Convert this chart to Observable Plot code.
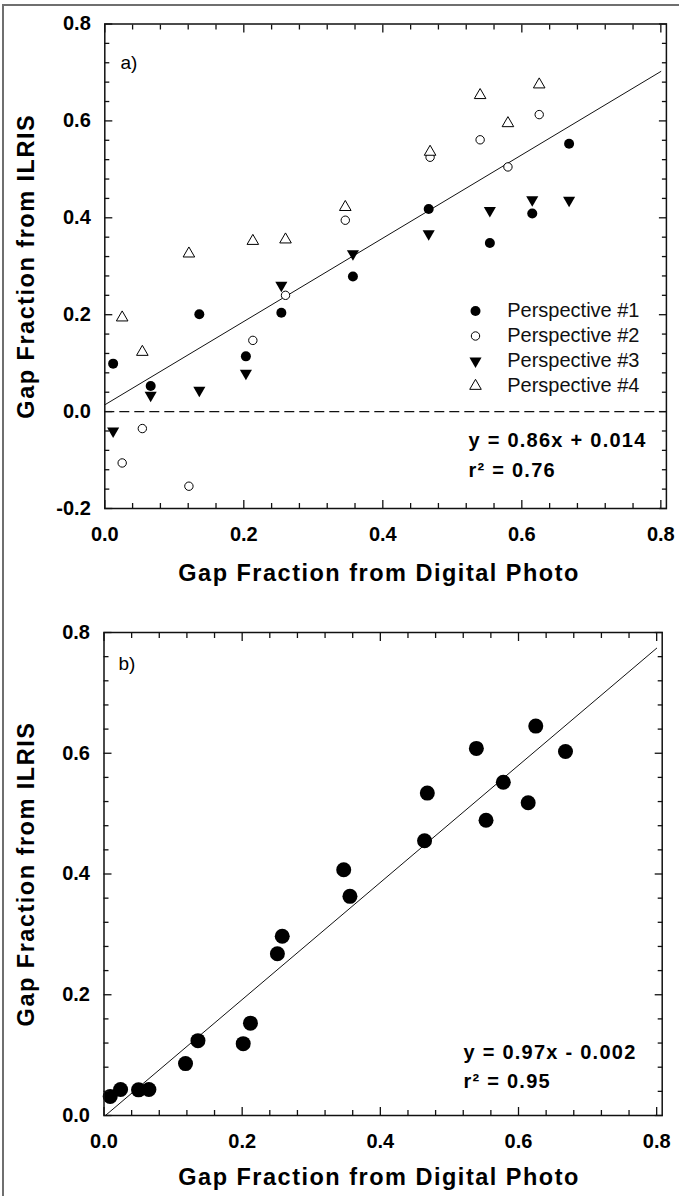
<!DOCTYPE html>
<html>
<head>
<meta charset="utf-8">
<script src="https://cdn.jsdelivr.net/npm/d3@7"></script>
<script src="https://cdn.jsdelivr.net/npm/@observablehq/plot@0.6"></script>
<style>
  body { margin: 0; background: #fff; }
  #page { position: relative; width: 679px; height: 1196px; overflow: hidden; background: #fff; }
  #page svg { display: block; }
  #border { position: absolute; left: 2px; top: 4px; right: -10px; bottom: -10px;
            border-top: 2px solid #6f6f6f; border-left: 2px solid #6f6f6f; pointer-events: none; }
</style>
</head>
<body>
<div id="page"><div id="border"></div></div>
<script>
// Gap fraction: digital hemispherical photo (x) vs ILRIS lidar (y)

// Panel a) — sites seen from perspectives #1 and #3
const photoA = [0.012, 0.066, 0.136, 0.203, 0.254, 0.357, 0.466, 0.554, 0.615, 0.668];
const persp1 = [0.099, 0.053, 0.201, 0.114, 0.204, 0.279, 0.418, 0.348, 0.409, 0.553];
const persp3 = [-0.040, 0.034, 0.044, 0.079, 0.261, 0.326, 0.367, 0.415, 0.437, 0.436];

// Panel a) — sites seen from perspectives #2 and #4
const photoB = [0.025, 0.054, 0.121, 0.213, 0.260, 0.346, 0.468, 0.540, 0.580, 0.625];
const persp2 = [-0.106, -0.035, -0.154, 0.147, 0.240, 0.395, 0.525, 0.561, 0.505, 0.613];
const persp4 = [0.194, 0.123, 0.326, 0.352, 0.355, 0.422, 0.536, 0.653, 0.595, 0.675];

// Panel b) — combined perspectives per site
const photoAll = [0.009, 0.024, 0.050, 0.065, 0.118, 0.136, 0.2015, 0.212, 0.251, 0.258,
                  0.347, 0.356, 0.464, 0.468, 0.539, 0.553, 0.578, 0.614, 0.625, 0.668];
const ilrisAll = [0.0315, 0.043, 0.0425, 0.043, 0.086, 0.124, 0.119, 0.153, 0.268, 0.297,
                  0.407, 0.363, 0.455, 0.534, 0.608, 0.489, 0.552, 0.518, 0.645, 0.603];

// Linear fits (slope, intercept, r²)
const fitA = {slope: 0.86, intercept: 0.014, r2: "0.76"};
const fitB = {slope: 0.97, intercept: -0.002, r2: "0.95"};

// Axis ticks and text
const xMajor = [0.0, 0.2, 0.4, 0.6, 0.8];
const yMajorA = [-0.2, 0.0, 0.2, 0.4, 0.6, 0.8];
const yMajorB = [0.0, 0.2, 0.4, 0.6, 0.8];
const legendLabels = ["Perspective #1", "Perspective #2", "Perspective #3", "Perspective #4"];
const xTitle = "Gap Fraction from Digital Photo";
const yTitle = "Gap Fraction from ILRIS";

const FONT = "'Liberation Sans', Arial, Helvetica, sans-serif";
const fmt = (d) => d.toFixed(1);
const minorBetween = (lo, hi) => d3.range(Math.round(lo / 0.04), Math.round(hi / 0.04) + 1)
  .map((i) => +(i * 0.04).toFixed(2))
  .filter((v) => Math.abs(v / 0.2 - Math.round(v / 0.2)) > 1e-6);

// Downward-pointing triangle, same area convention as d3.symbolTriangle
const triangleDown = {
  draw(ctx, size) {
    const y = -Math.sqrt(size / (Math.sqrt(3) * 3));
    ctx.moveTo(0, -2 * y);
    ctx.lineTo(-Math.sqrt(3) * y, y);
    ctx.lineTo(Math.sqrt(3) * y, y);
    ctx.closePath();
  }
};

const series = [
  {label: legendLabels[0], xs: photoA, ys: persp1, symbol: "circle", fill: "black", stroke: "none", r: 5},
  {label: legendLabels[1], xs: photoB, ys: persp2, symbol: "circle", fill: "white", stroke: "black", r: 4.2},
  {label: legendLabels[2], xs: photoA, ys: persp3, symbol: triangleDown, fill: "black", stroke: "none", r: 4.5},
  {label: legendLabels[3], xs: photoB, ys: persp4, symbol: "triangle", fill: "white", stroke: "black", r: 4.3}
];

// Inward ticks on all four sides plus labelled left/bottom axes
function frameAxes(yMajor, yMinor, xMinor) {
  const blank = () => "";
  const tick = {stroke: "#111", strokeWidth: 1.3, label: null, tickFormat: blank};
  return [
    Plot.axisX(xMajor, {...tick, anchor: "bottom", tickSize: -8}),
    Plot.axisX(xMajor, {...tick, anchor: "top", tickSize: -8}),
    Plot.axisX(xMinor, {...tick, anchor: "bottom", tickSize: -5}),
    Plot.axisX(xMinor, {...tick, anchor: "top", tickSize: -5}),
    Plot.axisY(yMajor, {...tick, anchor: "left", tickSize: -8}),
    Plot.axisY(yMajor, {...tick, anchor: "right", tickSize: -8}),
    Plot.axisY(yMinor, {...tick, anchor: "left", tickSize: -5}),
    Plot.axisY(yMinor, {...tick, anchor: "right", tickSize: -5}),
    Plot.axisX(xMajor, {anchor: "bottom", tickSize: 0, tickPadding: 18, tickFormat: fmt, label: null,
                        fontSize: 20, fontWeight: "bold", fill: "#000"}),
    Plot.axisY(yMajor, {anchor: "left", tickSize: 0, tickPadding: 14, tickFormat: fmt, label: null,
                        fontSize: 20, fontWeight: "bold", fill: "#000"}),
    Plot.frame({stroke: "#111", strokeWidth: 1.5})
  ];
}

function titles(xdx, xdy, ydx) {
  return [
    Plot.text([xTitle], {text: (d) => d, frameAnchor: "bottom", dx: xdx, dy: xdy, lineAnchor: "middle",
                         textAnchor: "middle", fontSize: 23.5, fontWeight: "bold"}),
    Plot.text([yTitle], {text: (d) => d, frameAnchor: "left", dx: ydx, rotate: -90, lineAnchor: "middle",
                         textAnchor: "middle", fontSize: 23.5, fontWeight: "bold"})
  ];
}

function equationText(fit) {
  const sign = fit.intercept < 0 ? "-" : "+";
  return [`y = ${fit.slope}x ${sign} ${Math.abs(fit.intercept)}`, `r\u00B2 = ${fit.r2}`];
}

// Widen the letter spacing of titles and fit equations after rendering
function spaceText(svg, eqs) {
  d3.select(svg).selectAll("text").each(function () {
    const t = this.textContent;
    if (t === xTitle || t === yTitle) this.style.letterSpacing = "1.5px";
    else if (eqs.includes(t)) this.style.letterSpacing = "1.25px";
  });
  return svg;
}

const page = document.getElementById("page");

// ---- Panel a) ----
const lineA = [0, 0.8].map((x) => ({x, y: fitA.slope * x + fitA.intercept}));
const eqA = equationText(fitA);
const legendMarks = series.flatMap((s, i) => [
  Plot.dot([s], {frameAnchor: "top-left", dx: 370.7, dy: 287 + i * 25, symbol: s.symbol,
                 r: s.r, fill: s.fill, stroke: s.stroke, strokeWidth: 1}),
  Plot.text([s.label], {text: (d) => d, frameAnchor: "top-left", dx: 402.4, dy: 287 + i * 25,
                        textAnchor: "start", lineAnchor: "middle", fontSize: 20, fill: "#111"})
]);

const plotA = Plot.plot({
  width: 679, height: 600,
  marginTop: 23.5, marginBottom: 92, marginLeft: 104.3, marginRight: 13.1,
  x: {domain: [0, 0.808]},
  y: {domain: [-0.2, 0.8]},
  style: {fontFamily: FONT, color: "#000", background: "transparent", overflow: "visible"},
  marks: [
    Plot.ruleY([0], {stroke: "#111", strokeWidth: 1.2, strokeDasharray: "10,5"}),
    Plot.line(lineA, {x: "x", y: "y", stroke: "#111", strokeWidth: 1}),
    ...series.map((s) => Plot.dot(s.xs.map((x, i) => ({x, y: s.ys[i]})),
      {x: "x", y: "y", symbol: s.symbol, r: s.r, fill: s.fill, stroke: s.stroke, strokeWidth: 1})),
    ...legendMarks,
    Plot.text([eqA[0]], {text: (d) => d, frameAnchor: "top-left", dx: 363.7, dy: 416.5, textAnchor: "start",
                         lineAnchor: "middle", fontSize: 20, fontWeight: "bold"}),
    Plot.text([eqA[1]], {text: (d) => d, frameAnchor: "top-left", dx: 363.7, dy: 446.5, textAnchor: "start",
                         lineAnchor: "middle", fontSize: 20, fontWeight: "bold"}),
    Plot.text(["a)"], {text: (d) => d, frameAnchor: "top-left", dx: 15.7, dy: 38.5, textAnchor: "start",
                       lineAnchor: "middle", fontSize: 19}),
    ...frameAxes(yMajorA, minorBetween(-0.2, 0.8), minorBetween(0, 0.8)),
    ...titles(-6.5, 65, -78.3)
  ]
});
page.appendChild(spaceText(plotA, eqA));

// ---- Panel b) ----
const x0B = -fitB.intercept / fitB.slope;
const lineB = [x0B, 0.8].map((x) => ({x, y: fitB.slope * x + fitB.intercept}));
const eqB = equationText(fitB);

const plotB = Plot.plot({
  width: 679, height: 596,
  marginTop: 32, marginBottom: 81, marginLeft: 103.5, marginRight: 17.3,
  x: {domain: [0, 0.808]},
  y: {domain: [0, 0.8]},
  style: {fontFamily: FONT, color: "#000", background: "transparent", overflow: "visible"},
  marks: [
    Plot.line(lineB, {x: "x", y: "y", stroke: "#111", strokeWidth: 1}),
    Plot.dot(photoAll.map((x, i) => ({x, y: ilrisAll[i]})), {x: "x", y: "y", r: 7.5, fill: "black"}),
    Plot.text([eqB[0]], {text: (d) => d, frameAnchor: "top-left", dx: 359.5, dy: 420, textAnchor: "start",
                         lineAnchor: "middle", fontSize: 20, fontWeight: "bold"}),
    Plot.text([eqB[1]], {text: (d) => d, frameAnchor: "top-left", dx: 359.5, dy: 449, textAnchor: "start",
                         lineAnchor: "middle", fontSize: 20, fontWeight: "bold"}),
    Plot.text(["b)"], {text: (d) => d, frameAnchor: "top-left", dx: 14.5, dy: 31, textAnchor: "start",
                       lineAnchor: "middle", fontSize: 19}),
    ...frameAxes(yMajorB, minorBetween(0, 0.8), minorBetween(0, 0.8)),
    ...titles(-4, 62, -77.5)
  ]
});
page.appendChild(spaceText(plotB, eqB));
</script>
</body>
</html>
